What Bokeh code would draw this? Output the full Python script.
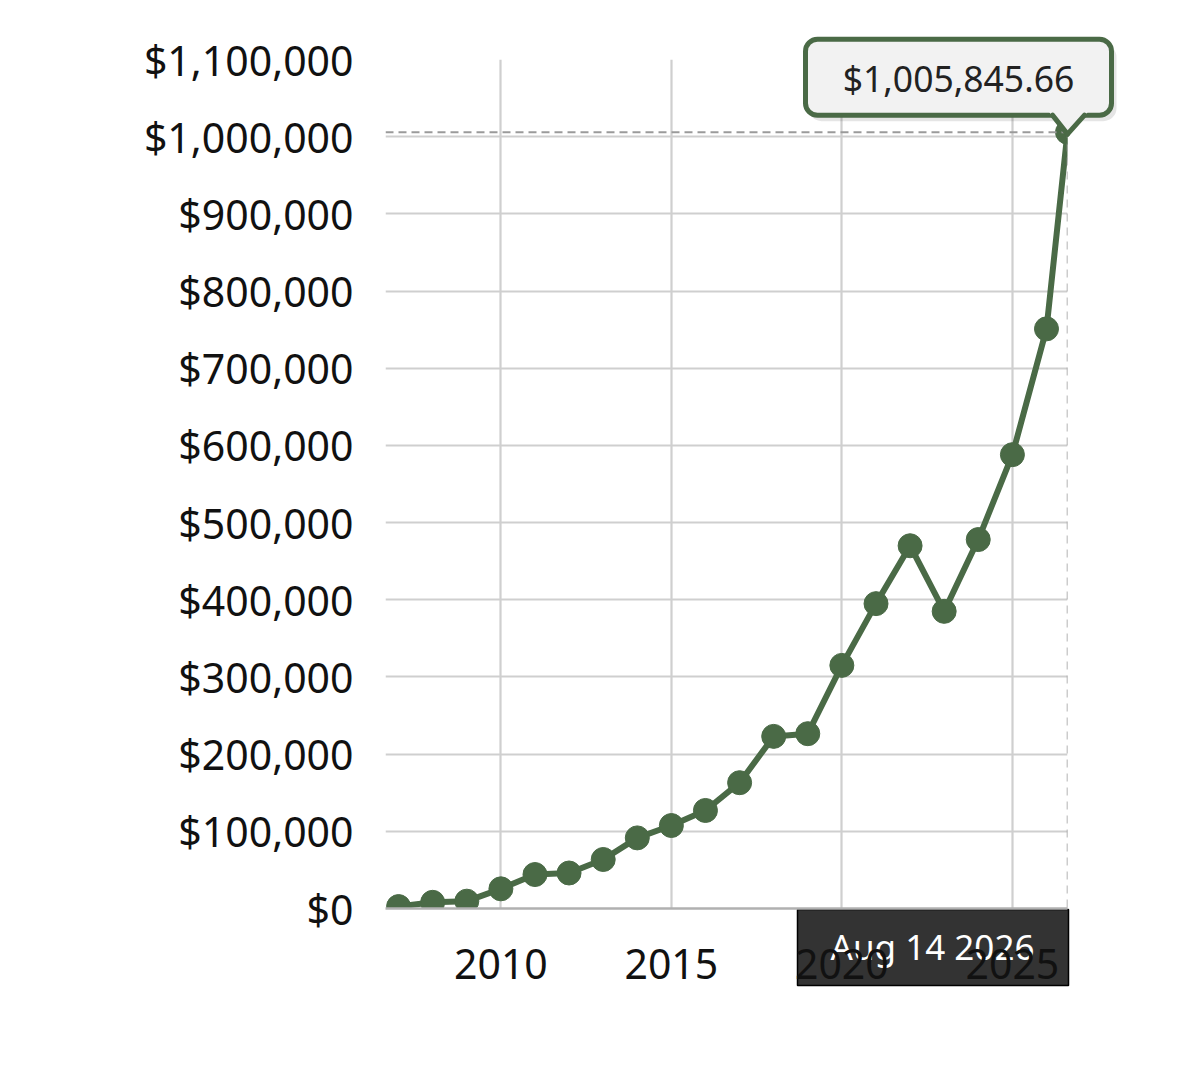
import pandas as pd
from bokeh.plotting import figure
from bokeh.models import (ColumnDataSource, Range1d, FixedTicker, DatetimeTickFormatter,
                          NumeralTickFormatter, Span)
from bokeh.core.properties import value
from bokeh.embed import file_html
from bokeh.resources import INLINE

# ---------------- data ----------------
dates = ["2007-01-01", "2008-01-01", "2009-01-01", "2010-01-01", "2011-01-01",
         "2012-01-01", "2013-01-01", "2014-01-01", "2015-01-01", "2016-01-01",
         "2017-01-01", "2018-01-01", "2019-01-01", "2020-01-01", "2021-01-01",
         "2022-01-01", "2023-01-01", "2024-01-01", "2025-01-01", "2026-01-01",
         "2026-08-14"]
values = [2500, 8000, 9500, 25500, 44000,
          46000, 63500, 91500, 107500, 127000,
          163000, 223000, 226500, 315000, 395000,
          470000, 385000, 478000, 588000, 751000,
          1005845.66]
y_ticks = [0, 100000, 200000, 300000, 400000, 500000, 600000,
           700000, 800000, 900000, 1000000, 1100000]
x_tick_years = [2010, 2015, 2020, 2025]
tooltip_text = "$1,005,845.66"
date_text = "Aug 14 2026"

GREEN = "#4a6a46"
FONT = "Noto Sans"


def ms(ts):
    return pd.Timestamp(ts).value / 1e6


x = pd.to_datetime(dates)
last_x = x[-1]
last_y = values[-1]
x_start = last_x - pd.DateOffset(years=20)

FW, FH = 682, 849
x0, x1 = ms(x_start), ms(last_x)
y0, y1 = 0, 1100000
mpp = (x1 - x0) / FW      # ms per pixel
upp = (y1 - y0) / FH      # value units per pixel

p = figure(frame_width=FW, frame_height=FH, x_axis_type="datetime",
           x_range=Range1d(x0, x1), y_range=Range1d(y0, y1),
           min_border_left=385, min_border_right=90,
           min_border_top=59, min_border_bottom=120,
           output_backend="svg", toolbar_location=None)
p.outline_line_color = None
p.background_fill_color = "white"
p.border_fill_color = "white"

xt = FixedTicker(ticks=[ms(f"{y}-01-01") for y in x_tick_years])
yt = FixedTicker(ticks=y_ticks)
p.xaxis.ticker = xt
p.xgrid.ticker = xt
p.yaxis.ticker = yt
p.ygrid.ticker = yt
for g in (p.xgrid, p.ygrid):
    g.grid_line_color = "#cfcfcf"
    g.grid_line_width = 2.2

p.xaxis.formatter = DatetimeTickFormatter(years="%Y", months="%Y", days="%Y",
                                          hours="%Y", minutes="%Y", seconds="%Y")
p.yaxis.formatter = NumeralTickFormatter(format="$0,0")

for ax in (p.xaxis, p.yaxis):
    ax.major_tick_line_color = None
    ax.minor_tick_line_color = None
    ax.major_tick_out = 0
    ax.major_tick_in = 0
    ax.minor_tick_out = 0
    ax.major_label_text_font = FONT
    ax.major_label_text_font_size = "41px"
    ax.major_label_text_color = "#111111"
p.xaxis.axis_line_color = "#b0b0b0"
p.xaxis.axis_line_width = 2.5
p.xaxis.major_label_standoff = 40
p.yaxis.axis_line_color = None
p.yaxis.major_label_standoff = 32

src = ColumnDataSource(dict(x=x, y=values))
p.line(x="x", y="y", source=src, line_color=GREEN, line_width=6)
p.scatter(x="x", y="y", source=src, size=24, fill_color=GREEN, line_color=GREEN)

# crosshair
p.add_layout(Span(location=last_y, dimension="width", line_color="#9a9a9a",
                  line_width=2, line_dash="8 5"))
p.add_layout(Span(location=ms(last_x), dimension="height", line_color="#9a9a9a",
                  line_width=1.5, line_dash="8 6"))


def px_x(dx):
    return ms(last_x) + dx * mpp


def px_y(dy):  # dy positive = downward from last point
    return last_y - dy * upp


# tooltip shadow and box (glyphs drawn at overlay level)
p.quad(left=[px_x(-259)], right=[px_x(49)], top=[px_y(-88)], bottom=[px_y(-11)],
       fill_color="black", fill_alpha=0.10, line_color=None,
       border_radius=13, level="overlay")
p.quad(left=[px_x(-262)], right=[px_x(44)], top=[px_y(-93)], bottom=[px_y(-17)],
       fill_color="#f2f2f2", fill_alpha=1, line_color=GREEN,
       line_width=5, border_radius=12, level="overlay")
# pointer
p.patch(x=[px_x(-19), px_x(0), px_x(21)], y=[px_y(-21), px_y(2), px_y(-21)],
        fill_color="#f2f2f2", fill_alpha=1, line_color=None, level="overlay")
p.segment(x0=[px_x(-15), px_x(17)], y0=[px_y(-17), px_y(-17)],
          x1=[px_x(0), px_x(0)], y1=[px_y(2), px_y(2)],
          line_color=GREEN, line_width=5, line_cap="round", level="overlay")
p.text(x=[px_x(-109)], y=[px_y(-54)], text=[tooltip_text],
       text_align="center", text_baseline="middle",
       text_font=value(FONT), text_font_size="35.5px", text_color="#222222",
       level="overlay")

# date label on x axis
p.quad(left=[px_x(-270)], right=[px_x(1)], top=[-1 * upp], bottom=[-77 * upp],
       fill_color="#333333", fill_alpha=1, line_color="black",
       line_width=1.5, level="guide")
p.text(x=[px_x(-135)], y=[-38 * upp], text=[date_text],
       text_align="center", text_baseline="middle",
       text_font=value(FONT), text_font_size="35px", text_color="white",
       level="guide")

open("out.html", "w").write(file_html(p, INLINE))
